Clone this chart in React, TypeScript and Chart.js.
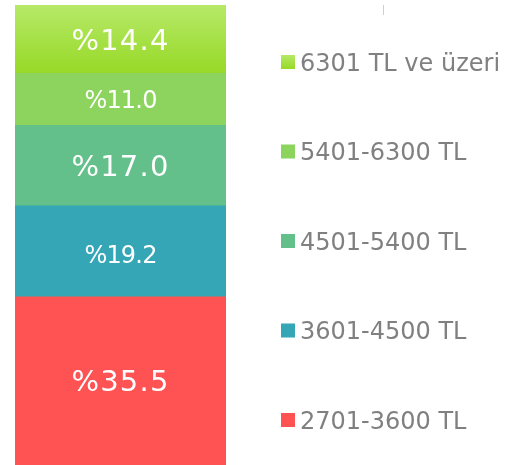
import { useEffect, useRef } from "react";
import { Chart, registerables } from "chart.js";

Chart.register(...registerables);

// ---- data ----
const categories = ["Gelir"];
const seriesLabels = ["2701-3600 TL", "3601-4500 TL", "4501-5400 TL", "5401-6300 TL", "6301 TL ve üzeri"];
const seriesValues = [35.5, 19.2, 17.0, 11.0, 14.4];
const valueLabels = ["%35.5", "%19.2", "%17.0", "%11.0", "%14.4"];
const seriesColors = ["#ff5252", "#35a6b5", "#64c08a", "#8dd45f", "#a6e03c"];
const topGradientStops = ["#b6e968", "#97d927"];

const FONT = "'DejaVu Sans', Verdana, sans-serif";

function topGradient(chart: any, yTop: number, yBottom: number) {
  const g = chart.ctx.createLinearGradient(0, yTop, 0, yBottom);
  g.addColorStop(0, topGradientStops[0]);
  g.addColorStop(1, topGradientStops[1]);
  return g;
}

const labelsPlugin = {
  id: "segmentLabels",
  afterDatasetsDraw(chart: any) {
    const ctx = chart.ctx;
    ctx.save();
    ctx.fillStyle = "#ffffff";
    ctx.textAlign = "center";
    ctx.textBaseline = "alphabetic";
    chart.data.datasets.forEach((ds: any, i: number) => {
      const meta = chart.getDatasetMeta(i);
      const el = meta.data[0];
      if (!el) return;
      const big = i % 2 === 0;
      const size = big ? 29 : 24;
      ctx.font = `${size}px ${FONT}`;
      try {
        (ctx as any).letterSpacing = big ? "1.2px" : "-0.8px";
      } catch (e) {}
      const cy = (el.y + el.base) / 2;
      const dy = i === 1 ? 3 : 0;
      ctx.fillText(valueLabels[i], el.x, cy + 0.3645 * size + dy);
    });
    ctx.restore();
  },
};

const legendPlugin = {
  id: "sideLegend",
  afterDraw(chart: any) {
    const ctx = chart.ctx;
    ctx.save();
    // faint tick mark at the top
    ctx.strokeStyle = "#cfcfcf";
    ctx.lineWidth = 1;
    ctx.beginPath();
    ctx.moveTo(383.5, 5);
    ctx.lineTo(383.5, 15);
    ctx.stroke();

    const n = chart.data.datasets.length;
    ctx.font = `24px ${FONT}`;
    ctx.textAlign = "left";
    ctx.textBaseline = "alphabetic";
    for (let k = 0; k < n; k++) {
      const i = n - 1 - k;
      const ds = chart.data.datasets[i];
      const cy = 62 + k * 89.5;
      if (i === n - 1) {
        ctx.fillStyle = topGradient(chart, cy - 7, cy + 7);
      } else {
        ctx.fillStyle = seriesColors[i];
      }
      ctx.fillRect(281, cy - 7, 14, 14);
      ctx.fillStyle = "#808080";
      ctx.fillText(ds.label, 300, cy + 0.3645 * 24);
    }
    ctx.restore();
  },
};

export default function App() {
  const ref = useRef<HTMLCanvasElement | null>(null);

  useEffect(() => {
    if (!ref.current) return;
    const total = seriesValues.reduce((a, b) => a + b, 0);
    const last = seriesValues.length - 1;
    const chart = new Chart(ref.current, {
      type: "bar",
      data: {
        labels: categories,
        datasets: seriesLabels.map((label, i) => ({
          label,
          data: [seriesValues[i]],
          backgroundColor:
            i === last
              ? (c: any) => {
                  const ch = c.chart;
                  const ys = ch.scales && ch.scales.y;
                  if (!ch.chartArea || !ys) return seriesColors[i];
                  const top = ys.getPixelForValue(total);
                  const bottom = ys.getPixelForValue(total - seriesValues[i]);
                  return topGradient(ch, top, bottom);
                }
              : seriesColors[i],
          borderWidth: 0,
          barPercentage: 1,
          categoryPercentage: 1,
        })),
      },
      options: {
        responsive: false,
        animation: false,
        devicePixelRatio: 1,
        layout: { padding: { left: 15, right: 279, top: 5, bottom: 0 } },
        plugins: {
          legend: { display: false },
          tooltip: { enabled: false },
          title: { display: false },
        },
        scales: {
          x: { stacked: true, display: false },
          y: { stacked: true, display: false, min: 0, max: total },
        },
      },
      plugins: [labelsPlugin, legendPlugin],
    });
    return () => chart.destroy();
  }, []);

  return (
    <div style={{ position: "absolute", left: 0, top: 0, width: 505, height: 465, background: "#ffffff" }}>
      <canvas ref={ref} width={505} height={465} style={{ display: "block" }} />
    </div>
  );
}
